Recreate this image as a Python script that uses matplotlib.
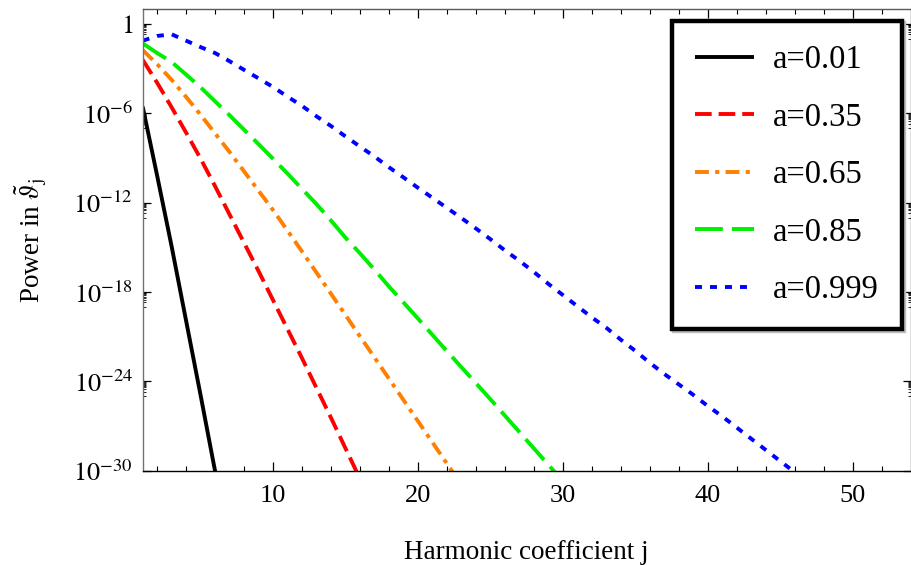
import numpy as np
import matplotlib
matplotlib.use('Agg')
import matplotlib.pyplot as plt
from matplotlib.ticker import FixedLocator, NullFormatter

plt.rcParams['font.family'] = ['Liberation Serif', 'DejaVu Serif']
plt.rcParams['mathtext.fontset'] = 'stix'
plt.rcParams['lines.scale_dashes'] = False

# log10 of the power at integer j
j_black = [1, 2, 3, 4, 5, 6, 7]
p_black = [-5.55, -10.2, -14.95, -19.95, -24.95, -30.05, -35.2]

j_red = list(range(1, 17))
p_red = [-2.4, -3.95, -5.6, -7.3, -9.05, -10.9, -12.8, -14.7, -16.6, -18.55,
         -20.5, -22.45, -24.45, -26.45, -28.5, -30.55]

j_orange = list(range(1, 24))
p_orange = [-1.75, -2.7, -3.75, -4.9, -6.1, -7.35, -8.6, -9.9, -11.2, -12.5,
            -13.88, -15.28, -16.7, -18.12, -19.55, -20.98, -22.4, -23.82,
            -25.25, -26.67, -28.1, -29.52, -30.95]

j_green = list(range(1, 31))
p_green = [-1.3, -1.95, -2.55, -3.4, -4.25, -5.2, -6.13, -7.1, -8.07, -9.05,
           -10.05, -11.08, -12.1, -13.2, -14.35, -15.4, -16.5, -17.63, -18.7,
           -19.78, -20.88, -21.97, -23.05, -24.12, -25.2, -26.3, -27.4, -28.5,
           -29.6, -30.7]

j_blue = list(range(1, 48))
p_blue = [-1.12, -0.8, -0.69, -1.12, -1.55, -1.95, -2.5, -3.08, -3.65, -4.23,
          -4.88, -5.5, -6.2, -6.85, -7.55, -8.23, -8.9, -9.62, -10.3, -11.0,
          -11.67, -12.35, -13.03, -13.73, -14.45, -15.2, -15.9, -16.65, -17.45,
          -18.2, -18.95, -19.7, -20.4, -21.2, -21.95, -22.75, -23.5, -24.2,
          -24.9, -25.65, -26.35, -27.1, -27.85, -28.6, -29.35, -30.1, -30.85]

labels = ['a=0.01', 'a=0.35', 'a=0.65', 'a=0.85', 'a=0.999']
colors = ['black', '#ff0000', '#ff8000', '#00ee00', '#0000ff']
y_major = [-30, -24, -18, -12, -6, 0]
y_ticklabels = ['$10^{-30}$', '$10^{-24}$', '$10^{-18}$', '$10^{-12}$', '$10^{-6}$', '$1$']

fig = plt.figure(figsize=(9.11, 5.65), dpi=100)
ax = fig.add_axes([142.7 / 911, 1 - 470.7 / 565, (910.5 - 142.7) / 911, (470.7 - 9.3) / 565])

lw = 2.8
series = [(j_black, p_black), (j_red, p_red), (j_orange, p_orange),
          (j_green, p_green), (j_blue, p_blue)]
dashes = [None, (12, 5), (10, 4.5, 3, 4.5), (20, 6.5), (5, 5.8)]
for (jj, pp), lab, col, ds in zip(series, labels, colors, dashes):
    line, = ax.plot(jj, 10.0 ** np.array(pp), color=col, lw=lw, label=lab,
                    dash_capstyle='butt', solid_capstyle='butt')
    if ds is not None:
        line.set_dashes(ds)

ax.set_yscale('log')
ax.set_xlim(1, 54)
ax.set_ylim(1e-30, 10 ** 0.99)

ax.xaxis.set_major_locator(FixedLocator([10, 20, 30, 40, 50]))
ax.xaxis.set_minor_locator(FixedLocator(np.arange(2, 54, 2)))
ax.yaxis.set_major_locator(FixedLocator([10.0 ** e for e in y_major]))
ax.set_yticklabels(y_ticklabels)
y_minor = [k * 10.0 ** (e - 1) for e in y_major for k in range(1, 10)]
ax.yaxis.set_minor_locator(FixedLocator(y_minor))
ax.yaxis.set_minor_formatter(NullFormatter())

ax.tick_params(which='both', direction='in', top=True, right=True, labelsize=19)
ax.tick_params(axis='x', which='major', length=6.5, width=0.9, pad=10)
ax.tick_params(axis='x', which='minor', length=3.8, width=0.8)
ax.tick_params(axis='y', which='major', length=6, width=0.9, pad=7)
ax.tick_params(axis='y', which='minor', length=2.2, width=0.6)

ax.spines['left'].set_color('0.45')
ax.spines['top'].set_color('0.35')
ax.spines['right'].set_color('0.35')
ax.spines['bottom'].set_color('black')
for s in ax.spines.values():
    s.set_linewidth(1.0)

ax.set_xlabel('Harmonic coefficient j', fontsize=19.5, labelpad=24)
ax.set_ylabel(r'Power in $\tilde{\vartheta}_{\mathrm{j}}$', fontsize=19.5)
ax.yaxis.set_label_coords(-0.122, 0.5)

leg = ax.legend(loc='upper right', bbox_to_anchor=(902 / 911, 1 - 21 / 565),
                bbox_transform=fig.transFigure, fontsize=23.5, frameon=True,
                fancybox=False, edgecolor='black', framealpha=1,
                handlelength=1.81, handletextpad=0.56, labelspacing=0.83,
                borderpad=0.72, borderaxespad=0,
                shadow={'color': '0.75', 'alpha': 1, 'ox': 1.5, 'oy': -1.5})
leg.get_frame().set_linewidth(3.2)

fig.savefig('out.png', dpi=100)
